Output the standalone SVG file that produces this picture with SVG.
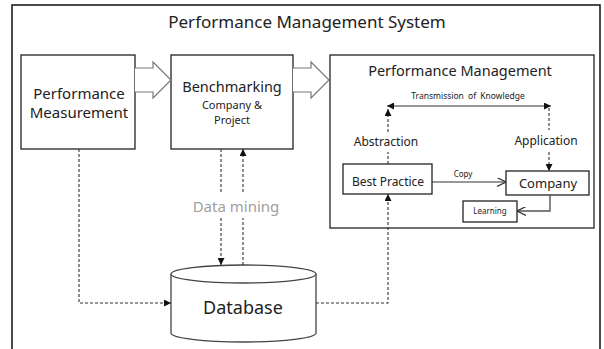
<svg xmlns="http://www.w3.org/2000/svg" width="604" height="349" viewBox="0 0 604 349">
<defs>
<style>
.box{fill:#fff;stroke:#222;stroke-width:1.3}
.hollow{fill:#fff;stroke:#777;stroke-width:1.2}
.dash{fill:none;stroke:#333;stroke-width:1.1;stroke-dasharray:3,2}
.solid{fill:none;stroke:#333;stroke-width:1.2}
.gray{fill:none;stroke:#555;stroke-width:1.4}
text{font-family:"Noto Sans","Open Sans",sans-serif;fill:#222;text-anchor:middle}
</style>
<marker id="tri" viewBox="0 0 10 10" refX="10" refY="5" markerWidth="7" markerHeight="7" markerUnits="userSpaceOnUse" orient="auto">
<path d="M0,0 L10,5 L0,10 Z" fill="#111"/>
</marker>
<marker id="triS" viewBox="0 0 10 10" refX="10" refY="5" markerWidth="7" markerHeight="7" markerUnits="userSpaceOnUse" orient="auto-start-reverse">
<path d="M0,0 L10,5 L0,10 Z" fill="#111"/>
</marker>
<marker id="open" viewBox="0 0 10 10" refX="10" refY="5" markerWidth="9" markerHeight="9" markerUnits="userSpaceOnUse" orient="auto">
<path d="M0,0 L10,5 L0,10" fill="none" stroke="#333" stroke-width="1.3"/>
</marker>
</defs>
<rect x="12" y="5" width="588" height="360" fill="#fff" stroke="#111" stroke-width="1.5"/>
<text x="307" y="28" font-size="17">Performance Management System</text>

<g id="performance-measurement">
<rect class="box" x="21" y="55" width="114" height="94"/>
<text x="79" y="99" font-size="15">Performance</text>
<text x="79" y="118" font-size="15">Measurement</text>
</g>

<g id="benchmarking">
<rect class="box" x="171" y="55" width="122" height="94"/>
<text x="232" y="92" font-size="14.5">Benchmarking</text>
<text x="232" y="109" font-size="11">Company &amp;</text>
<text x="232" y="124" font-size="11">Project</text>
</g>

<g id="performance-management">
<rect class="box" x="330" y="55" width="264" height="173"/>
<text x="460" y="76" font-size="14.5">Performance Management</text>
<text x="468" y="99" font-size="8.5" word-spacing="2">Transmission of Knowledge</text>
<text x="386" y="146" font-size="12">Abstraction</text>
<text x="546" y="145" font-size="12">Application</text>
<text x="463" y="177" font-size="8">Copy</text>
</g>

<g id="best-practice">
<rect class="box" x="343" y="164" width="89" height="30"/>
<text x="388" y="186" font-size="12">Best Practice</text>
</g>

<g id="company">
<rect class="box" x="506" y="171" width="83" height="24"/>
<text x="548" y="188" font-size="13">Company</text>
</g>

<g id="learning">
<rect class="box" x="463" y="201" width="54" height="21"/>
<text x="490" y="214" font-size="8">Learning</text>
</g>

<g id="database">
<path d="M171,274 L171,333 A72.5,9 0 0 0 316,333 L316,274" fill="#fff" stroke="#444" stroke-width="1.3"/>
<ellipse cx="243.5" cy="274" rx="72.5" ry="9" fill="#fff" stroke="#444" stroke-width="1.3"/>
<text x="243" y="314" font-size="18">Database</text>
</g>

<text x="236" y="212" font-size="15" style="fill:#a0a0a0">Data mining</text>

<g id="connectors">
<path class="hollow" d="M135,68 L153,68 L153,62 L171,80 L153,98 L153,92 L135,92"/>
<path class="hollow" d="M293,68 L311,68 L311,62 L329,80 L311,98 L311,92 L293,92"/>
<line class="dash" x1="221" y1="149" x2="221" y2="192"/>
<line class="dash" x1="221" y1="218" x2="221" y2="265" marker-end="url(#tri)"/>
<line class="dash" x1="243" y1="265" x2="243" y2="218"/>
<line class="dash" x1="243" y1="192" x2="243" y2="149" marker-end="url(#tri)"/>
<polyline class="dash" points="79,149 79,303 171,303" marker-end="url(#tri)"/>
<polyline class="dash" points="316,303 388,303 388,194" marker-end="url(#tri)"/>
<line class="solid" x1="387" y1="106" x2="551" y2="106" marker-start="url(#triS)" marker-end="url(#triS)"/>
<line class="dash" x1="388" y1="164" x2="388" y2="152"/>
<line class="dash" x1="388" y1="132" x2="388" y2="109" marker-end="url(#tri)"/>
<line class="dash" x1="549" y1="108" x2="549" y2="130"/>
<line class="dash" x1="549" y1="152" x2="549" y2="171" marker-end="url(#tri)"/>
<line class="solid" x1="432" y1="182" x2="506" y2="182" marker-end="url(#open)"/>
<polyline class="gray" points="550,195 550,211 517,211" marker-end="url(#open)"/>
</g>
</svg>
